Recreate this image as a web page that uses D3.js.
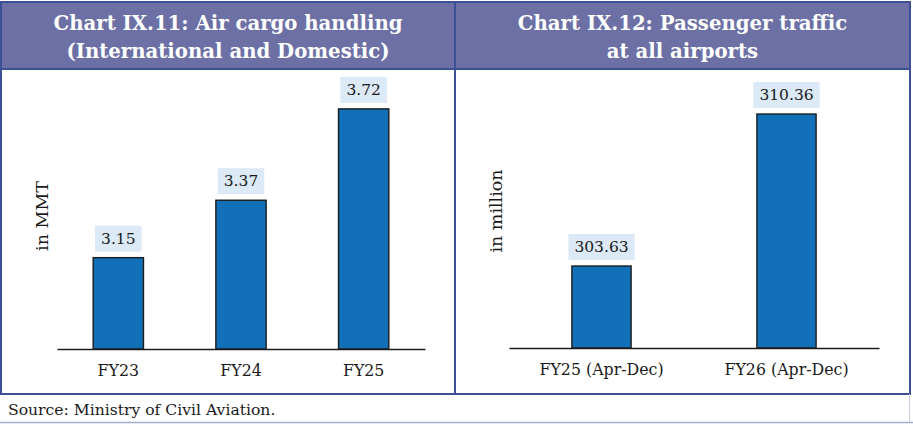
<!DOCTYPE html>
<html>
<head>
<meta charset="utf-8">
<script src="https://cdn.jsdelivr.net/npm/d3@7"></script>
<style>
  body { margin: 0; background: #fff; }
  svg { display: block; }
  text { font-family: "DejaVu Serif", "Liberation Serif", serif; }
</style>
</head>
<body>
<div id="chart"></div>
<script>
//////////////////////////// data ////////////////////////////////////////
const cargoYears = ["FY23", "FY24", "FY25"];
const cargoValues = [3.15, 3.37, 3.72];
const paxPeriods = ["FY25 (Apr-Dec)", "FY26 (Apr-Dec)"];
const paxValues = [303.63, 310.36];

const cargoTitle = ["Chart IX.11: Air cargo handling", "(International and Domestic)"];
const paxTitle = ["Chart IX.12: Passenger traffic", "at all airports"];
const source = "Source: Ministry of Civil Aviation.";

//////////////////////////// set up svg //////////////////////////////////
const width = 913;
const height = 424;
const border = "#3d5096";
const headFill = "#6c70a4";
const barFill = "#1170b8";
const boxFill = "#dce9f6";

const svg = d3.select("#chart").append("svg")
  .attr("width", width)
  .attr("height", height);

// frame
svg.append("rect")
  .attr("x", 1).attr("y", 2).attr("width", 909).attr("height", 67)
  .attr("fill", headFill).attr("stroke", border).attr("stroke-width", 2);
svg.append("rect")
  .attr("x", 1).attr("y", 69).attr("width", 909).attr("height", 325)
  .attr("fill", "none").attr("stroke", border).attr("stroke-width", 2);
svg.append("line")
  .attr("x1", 455).attr("x2", 455).attr("y1", 2).attr("y2", 394)
  .attr("stroke", border).attr("stroke-width", 2);
// faint bottom rule of the source strip
svg.append("line")
  .attr("x1", 0).attr("x2", 913).attr("y1", 422.5).attr("y2", 422.5)
  .attr("stroke", "#a3acc9").attr("stroke-width", 1.5);
svg.append("line")
  .attr("x1", 909.5).attr("x2", 909.5).attr("y1", 394).attr("y2", 422)
  .attr("stroke", "#c9cfe0").attr("stroke-width", 1);

// titles
function title(lines, cx) {
  svg.append("text")
    .attr("x", cx).attr("y", 30)
    .attr("text-anchor", "middle")
    .attr("fill", "#fff")
    .attr("font-weight", "bold")
    .attr("font-size", 19.7)
    .selectAll("tspan")
    .data(lines)
    .join("tspan")
    .attr("x", cx)
    .attr("dy", (d, i) => i ? 28 : 0)
    .text(d => d);
}
title(cargoTitle, 228);
title(paxTitle, 682.5);

svg.append("text")
  .attr("x", 8).attr("y", 415)
  .attr("font-size", 15.6)
  .attr("fill", "#1a1a1a")
  .text(source);

//////////////////////////// panels //////////////////////////////////////
function panel(cats, vals, opt) {
  const x = d3.scaleBand()
    .domain(cats)
    .range(opt.xRange)
    .paddingInner(opt.pad)
    .paddingOuter(opt.pad / 2);
  const y = d3.scaleLinear()
    .domain(opt.yDomain)
    .range(opt.yRange);

  const g = svg.append("g");
  const base = opt.yRange[0];

  g.selectAll(".bar")
    .data(vals)
    .join("rect")
    .attr("class", "bar")
    .attr("x", (d, i) => x(cats[i]))
    .attr("width", x.bandwidth())
    .attr("y", d => y(d))
    .attr("height", d => base - y(d))
    .attr("fill", barFill)
    .attr("stroke", "#1c1c1c")
    .attr("stroke-width", 1.4);

  // value labels with shaded box
  const lab = g.selectAll(".lab")
    .data(vals)
    .join("g")
    .attr("class", "lab")
    .attr("transform", (d, i) => `translate(${x(cats[i]) + x.bandwidth() / 2},${y(d) - 6})`);
  lab.append("rect")
    .attr("fill", boxFill);
  lab.append("text")
    .attr("text-anchor", "middle")
    .attr("y", -8)
    .attr("font-size", 15.5)
    .attr("fill", "#1a1a1a")
    .text(d => opt.fmt(d));
  lab.each(function () {
    const t = d3.select(this).select("text").node().getBBox();
    d3.select(this).select("rect")
      .attr("x", t.x - 6).attr("width", t.width + 12)
      .attr("y", -26).attr("height", 26);
  });

  // category axis
  const axis = d3.axisBottom(x).tickSize(0).tickPadding(16);
  const ax = g.append("g")
    .attr("transform", `translate(0,${base})`)
    .call(axis);
  ax.select(".domain").attr("stroke", "#1c1c1c").attr("stroke-width", 1.6);
  ax.selectAll("text")
    .attr("font-size", 15.8)
    .attr("fill", "#1a1a1a");

  g.append("text")
    .attr("transform", `translate(${opt.labX},${opt.labY}) rotate(-90)`)
    .attr("text-anchor", "middle")
    .attr("font-size", 17.5)
    .attr("fill", "#1a1a1a")
    .text(opt.yLabel);
}

panel(cargoYears, cargoValues, {
  xRange: [57, 425], pad: 0.59,
  yDomain: [2.8, 3.8], yRange: [349, 88],
  fmt: d3.format(".2f"),
  yLabel: "in MMT", labX: 48, labY: 216
});

panel(paxPeriods, paxValues, {
  xRange: [509, 879], pad: 0.68,
  yDomain: [300, 312], yRange: [348, 77],
  fmt: d3.format(".2f"),
  yLabel: "in million", labX: 502, labY: 211
});
</script>
</body>
</html>
